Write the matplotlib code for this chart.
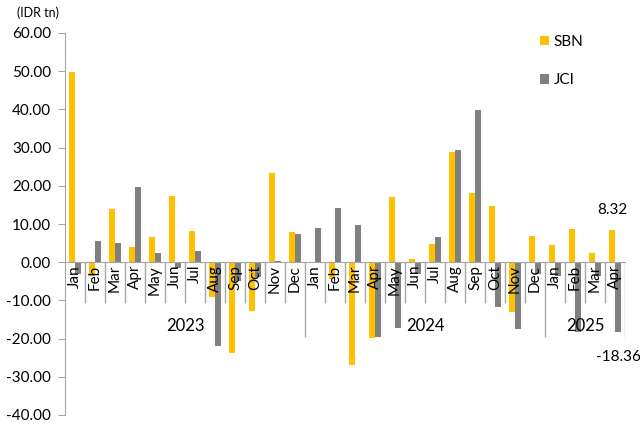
import matplotlib
matplotlib.use("Agg")
import matplotlib.pyplot as plt
import numpy as np

plt.rcParams['font.family'] = ['Lato', 'DejaVu Sans']

months = ["Jan", "Feb", "Mar", "Apr", "May", "Jun", "Jul", "Aug", "Sep", "Oct", "Nov", "Dec",
          "Jan", "Feb", "Mar", "Apr", "May", "Jun", "Jul", "Aug", "Sep", "Oct", "Nov", "Dec",
          "Jan", "Feb", "Mar", "Apr"]
years = ["2023", "2024", "2025"]
year_sizes = [12, 12, 4]

sbn = [49.8, -3.5, 14.0, 3.9, 6.5, 17.4, 8.1, -9.1, -23.7, -12.9, 23.4, 8.0,
       0.1, -4.5, -26.8, -19.9, 17.0, 0.9, 4.8, 28.8, 18.2, 14.8, -13.1, 6.8,
       4.5, 8.7, 2.5, 8.32]
jci = [-3.2, 5.5, 4.9, 19.7, 2.3, -1.5, 2.9, -21.9, -5.0, -4.0, 0.4, 7.3,
       9.0, 14.1, 9.8, -19.5, -17.1, -3.2, 6.5, 29.3, 39.9, -11.6, -17.5, -3.0,
       -3.5, -18.4, -3.5, -18.36]

yellow = "#FFC000"
grey = "#808080"
axis_col = "#A6A6A6"

fig = plt.figure(figsize=(6.4, 4.24), dpi=100)
ax = fig.add_axes([65 / 640, 9 / 424, 560 / 640, 382 / 424])

x = np.arange(len(months))
w = 0.3
b1 = ax.bar(x - w / 2, sbn, w, color=yellow, label="SBN")
b2 = ax.bar(x + w / 2, jci, w, color=grey, label="JCI")

ax.set_xlim(-0.5, len(months) - 0.5)
ax.set_ylim(-40, 60)
ax.set_yticks(np.arange(-40, 61, 10))
ax.set_yticklabels([f"{v:.2f}" for v in np.arange(-40, 61, 10)], fontsize=11)
ax.tick_params(axis="y", length=5, color=axis_col, pad=5)

ax.spines["top"].set_visible(False)
ax.spines["right"].set_visible(False)
ax.spines["left"].set_color(axis_col)
ax.spines["bottom"].set_color(axis_col)
ax.spines["bottom"].set_position(("data", 0))

ax.set_xticks(x)
ax.set_xticklabels(months, rotation=90, fontsize=11)
ax.tick_params(axis="x", length=0, pad=2)

# month / year separators under the zero line
edges = np.cumsum(year_sizes) - 0.5
for i in range(len(months)):
    b = i + 0.5
    low = -19.5 if b in edges else -10.8
    ax.vlines(b, low, 0, color=axis_col, lw=1)

start = 0
for yr, n in zip(years, year_sizes):
    ax.text(start + (n - 1) / 2, -16.6, yr, ha="center", va="center", fontsize=12)
    start += n

# data labels for last month
ax.annotate(f"{sbn[-1]:.2f}", (x[-1] - w / 2, sbn[-1]), xytext=(0, 10),
            textcoords="offset points", ha="center", va="bottom", fontsize=11)
ax.annotate(f"{jci[-1]:.2f}", (x[-1] + w / 2, jci[-1]), xytext=(0, -18),
            textcoords="offset points", ha="center", va="center", fontsize=11)

ax.legend(loc="upper left", bbox_to_anchor=(540 / 640, 1 - 35 / 424),
          bbox_transform=fig.transFigure, frameon=False, fontsize=11,
          handlelength=0.6, handleheight=0.6, handletextpad=0.3,
          labelspacing=1.6, borderpad=0, borderaxespad=0)

fig.text(17 / 640, 1 - 13 / 424, "(IDR tn)", fontsize=9, va="center")

fig.savefig("out.png", dpi=100)
